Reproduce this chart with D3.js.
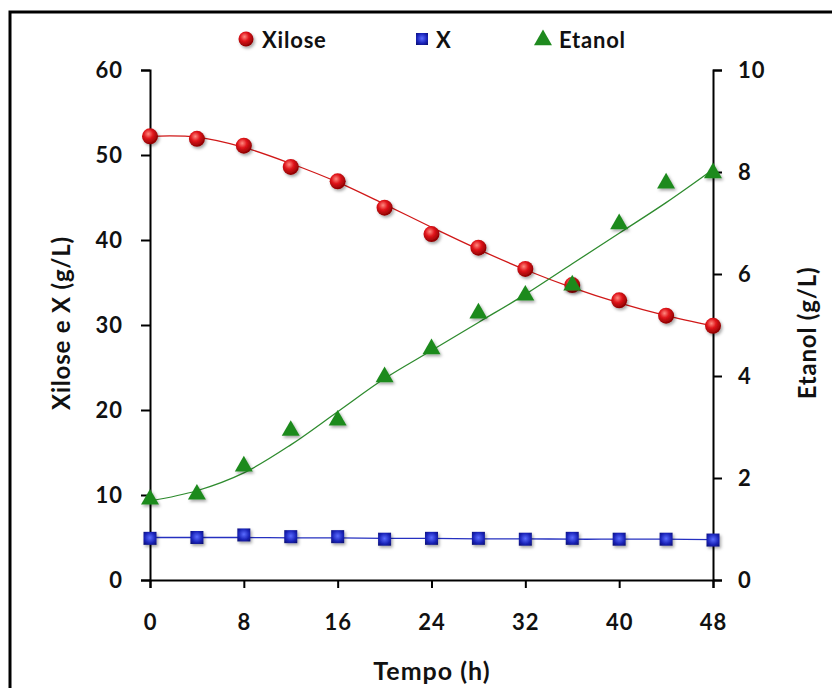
<!DOCTYPE html>
<html>
<head>
<meta charset="utf-8">
<script src="https://d3js.org/d3.v7.min.js"></script>
<style>
  body { margin: 0; background: #fff; }
  text { font-family: Lato, "Open Sans", sans-serif; font-weight: bold; fill: #111; }
</style>
</head>
<body>
<script>
// data
var tempo = [0, 4, 8, 12, 16, 20, 24, 28, 32, 36, 40, 44, 48];
var xilose = [52.2, 51.9, 51.1, 48.6, 46.9, 43.8, 40.7, 39.1, 36.6, 34.7, 32.9, 31.1, 29.9];
var biomassa = [4.9, 5.0, 5.3, 5.1, 5.1, 4.8, 4.9, 4.9, 4.8, 4.9, 4.8, 4.8, 4.7];
var etanol = [1.6, 1.7, 2.25, 2.95, 3.15, 4.0, 4.55, 5.25, 5.6, 5.8, 7.0, 7.8, 8.0];
// fitted curves, read at the same times
var xiloseFit = [52.2, 52.1, 50.9, 49.0, 46.8, 44.2, 41.5, 38.9, 36.5, 34.4, 32.6, 31.1, 29.9];
var biomassaFit = [5.0, 5.0, 5.0, 4.95, 4.95, 4.9, 4.9, 4.85, 4.85, 4.8, 4.8, 4.8, 4.75];
var etanolFit = [1.55, 1.75, 2.1, 2.65, 3.3, 3.95, 4.5, 5.05, 5.6, 6.2, 6.8, 7.4, 8.05];
var xTicks = [0, 8, 16, 24, 32, 40, 48];
var yLeftTicks = [0, 10, 20, 30, 40, 50, 60];
var yRightTicks = [0, 2, 4, 6, 8, 10];

var w = 832, h = 688;
var svg = d3.select("body").append("svg").attr("width", w).attr("height", h);

var defs = svg.append("defs");
var rg = defs.append("radialGradient").attr("id", "gRed").attr("cx", "40%").attr("cy", "35%").attr("r", "65%");
rg.append("stop").attr("offset", "0%").attr("stop-color", "#ff8a80");
rg.append("stop").attr("offset", "45%").attr("stop-color", "#e0141a");
rg.append("stop").attr("offset", "100%").attr("stop-color", "#8a0000");
var bg = defs.append("radialGradient").attr("id", "gBlue").attr("cx", "50%").attr("cy", "45%").attr("r", "70%");
bg.append("stop").attr("offset", "0%").attr("stop-color", "#5a6cff");
bg.append("stop").attr("offset", "60%").attr("stop-color", "#1a23b8");
bg.append("stop").attr("offset", "100%").attr("stop-color", "#0a0f70");
var sh = defs.append("filter").attr("id", "shadow").attr("x", "-50%").attr("y", "-50%").attr("width", "200%").attr("height", "200%");
sh.append("feDropShadow").attr("dx", 1.5).attr("dy", 2).attr("stdDeviation", 1.5).attr("flood-color", "#000").attr("flood-opacity", 0.35);

// outer frame
svg.append("rect").attr("x", 10).attr("y", 12).attr("width", 840).attr("height", 700)
  .attr("fill", "none").attr("stroke", "#000").attr("stroke-width", 3);

var x = d3.scaleLinear().domain([0, 48]).range([150, 713]);
var yL = d3.scaleLinear().domain([0, 60]).range([580, 70]);
var yR = d3.scaleLinear().domain([0, 10]).range([580, 70]);

function styleAxis(g) {
  g.selectAll("path").attr("stroke", "#000").attr("stroke-width", 2);
  g.selectAll("line").attr("stroke", "#000").attr("stroke-width", 2);
  g.selectAll("text").style("font-size", "22px").style("letter-spacing", "1px").attr("fill", "#111");
}

svg.append("g").attr("transform", "translate(0,580)")
  .call(d3.axisBottom(x).tickValues(xTicks).tickSizeOuter(0).tickSize(8).tickPadding(26))
  .call(styleAxis);
svg.append("g").attr("transform", "translate(150,0)")
  .call(d3.axisLeft(yL).tickValues(yLeftTicks).tickSizeOuter(0).tickSize(9).tickPadding(18))
  .call(styleAxis);
svg.append("g").attr("transform", "translate(713,0)")
  .call(d3.axisRight(yR).tickValues(yRightTicks).tickSizeOuter(0).tickSize(9).tickPadding(16))
  .call(styleAxis);

// axis titles
svg.append("text").attr("x", 432).attr("y", 680).attr("text-anchor", "middle")
  .style("font-size", "25px").style("letter-spacing", "1px").text("Tempo (h)");
svg.append("text").attr("transform", "translate(70,323) rotate(-90)").attr("text-anchor", "middle")
  .style("font-size", "24px").style("letter-spacing", "0.8px").text("Xilose e X (g/L)");
svg.append("text").attr("transform", "translate(816,333) rotate(-90)").attr("text-anchor", "middle")
  .style("font-size", "24px").style("letter-spacing", "0.8px").text("Etanol (g/L)");

// fitted lines
function drawFit(vals, yScale, color) {
  var line = d3.line().x(function(d, i) { return x(tempo[i]); })
    .y(function(d) { return yScale(d); }).curve(d3.curveCatmullRom);
  svg.append("path").datum(vals).attr("d", line)
    .attr("fill", "none").attr("stroke", color).attr("stroke-width", 1.3);
}
drawFit(xiloseFit, yL, "#d01818");
drawFit(biomassaFit, yL, "#2530c0");
drawFit(etanolFit, yR, "#2e8b2e");

var tri = d3.symbol().type(d3.symbolTriangle).size(140);

// markers
svg.append("g").selectAll("circle").data(xilose).enter().append("circle")
  .attr("cx", function(d, i) { return x(tempo[i]); })
  .attr("cy", function(d) { return yL(d); })
  .attr("r", 8).attr("fill", "url(#gRed)").attr("filter", "url(#shadow)");

svg.append("g").selectAll("rect").data(biomassa).enter().append("rect")
  .attr("x", function(d, i) { return x(tempo[i]) - 6.5; })
  .attr("y", function(d) { return yL(d) - 6.5; })
  .attr("width", 13).attr("height", 13).attr("fill", "url(#gBlue)").attr("filter", "url(#shadow)");

svg.append("g").selectAll("path").data(etanol).enter().append("path")
  .attr("d", tri)
  .attr("transform", function(d, i) { return "translate(" + x(tempo[i]) + "," + (yR(d) + 1) + ")"; })
  .attr("fill", "#1f8a1f").attr("filter", "url(#shadow)");

// legend
var leg = svg.append("g");
leg.append("circle").attr("cx", 246).attr("cy", 39).attr("r", 7.5).attr("fill", "url(#gRed)").attr("filter", "url(#shadow)");
leg.append("text").attr("x", 262).attr("y", 48).style("font-size", "22px").style("letter-spacing", "0.8px").text("Xilose");
leg.append("rect").attr("x", 416).attr("y", 33).attr("width", 12).attr("height", 12).attr("fill", "url(#gBlue)");
leg.append("text").attr("x", 436).attr("y", 48).style("font-size", "22px").style("letter-spacing", "0.8px").text("X");
leg.append("path").attr("d", tri).attr("transform", "translate(543,40)").attr("fill", "#1f8a1f");
leg.append("text").attr("x", 559).attr("y", 48).style("font-size", "22px").style("letter-spacing", "0.8px").text("Etanol");
</script>
</body>
</html>
